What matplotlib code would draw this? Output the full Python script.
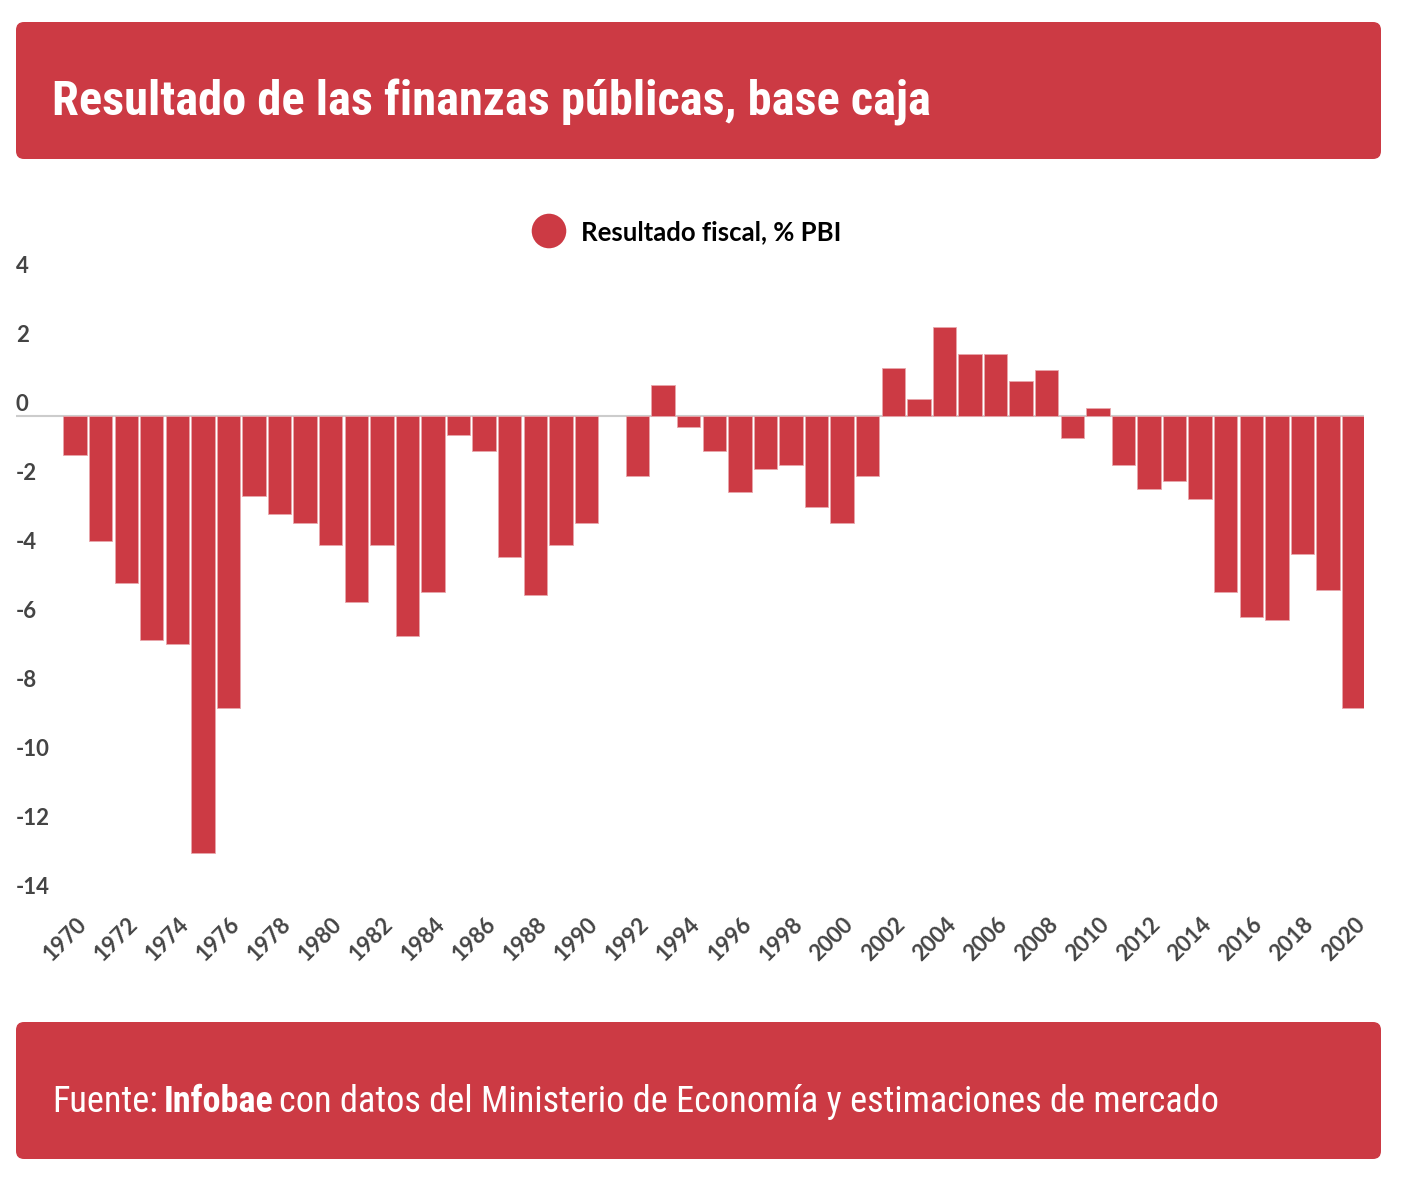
import numpy as np
import matplotlib
matplotlib.use("Agg")
import matplotlib.pyplot as plt
from matplotlib import font_manager
from matplotlib.font_manager import FontProperties
from matplotlib.patches import FancyBboxPatch
from matplotlib.transforms import ScaledTranslation

# data (% of GDP)
years = list(range(1970, 2021))
resultado = [
    -1.12, -3.63, -4.83, -6.50, -6.60, -12.66, -8.47, -2.33, -2.85, -3.11,
    -3.73, -5.40, -3.73, -6.38, -5.09, -0.55, -1.01, -4.09, -5.19, -3.73,
    -3.11, np.nan, -1.75, 0.91, -0.33, -1.01, -2.21, -1.54, -1.43, -2.63,
    -3.10, -1.74, 1.38, 0.49, 2.58, 1.80, 1.80, 1.01, 1.32, -0.65,
    0.23, -1.43, -2.12, -1.89, -2.41, -5.09, -5.82, -5.92, -3.99, -5.03, -8.47,
]
y_ticks = [4, 2, 0, -2, -4, -6, -8, -10, -12, -14]
x_tick_years = years[::2]

title = "Resultado de las finanzas públicas, base caja"
legend_label = "Resultado fiscal, % PBI"
fuente = ["Fuente:", "Infobae", "con datos del Ministerio de Economía y estimaciones de mercado"]

RED = "#cc3a44"
W, H = 1402, 1190
TICKFONT = ["Lato", "DejaVu Sans"]


def narrow_font(bold):
    """Look for an installed condensed / narrow face, else fall back to Roboto."""
    best = None
    for f in font_manager.fontManager.ttflist:
        name = f.name.lower()
        narrow = ("narrow" in name or "condensed" in name
                  or f.stretch in ("condensed", "semi-condensed", "extra-condensed"))
        if not narrow or f.style != "normal":
            continue
        w = f.weight if isinstance(f.weight, int) else (700 if f.weight == "bold" else 400)
        if (w >= 600) != bold:
            continue
        if best is None or "liberation" in name or "roboto" in name:
            best = f
    if best is not None:
        return FontProperties(fname=best.fname)
    return FontProperties(family=["Roboto", "DejaVu Sans"], weight="bold" if bold else "normal")


fp_bold = narrow_font(True)
fp_reg = narrow_font(False)

fig = plt.figure(figsize=(W / 100, H / 100), dpi=100)
renderer = fig.canvas.get_renderer()

# background layer in pixel coordinates
bg = fig.add_axes([0, 0, 1, 1], zorder=0)
bg.set_xlim(0, W)
bg.set_ylim(H, 0)
bg.axis("off")

for y0 in (22, 1022):
    bg.add_patch(FancyBboxPatch((16, y0), 1365, 137,
                                boxstyle="round,pad=0,rounding_size=8",
                                facecolor=RED, edgecolor="none"))


def fit(texts, target, size):
    # scale the font size so the run of texts covers the target width in pixels
    for t in texts:
        t.set_fontsize(size)
    fig.canvas.draw()
    x0 = texts[0].get_window_extent(renderer).x0
    x1 = texts[-1].get_window_extent(renderer).x1
    new = size * target / (x1 - x0)
    for t in texts:
        t.set_fontsize(new)


t_title = bg.text(52, 116, title, color="white", fontproperties=fp_bold,
                  va="baseline", ha="left")
fit([t_title], 878, 40)

t1 = bg.text(52, 1112, fuente[0], color="white", fontproperties=fp_reg,
             va="baseline", ha="left")
t2 = bg.annotate(fuente[1], xy=(1, 0), xycoords=t1, xytext=(4, 0),
                 textcoords="offset points", color="white",
                 fontproperties=fp_bold, va="bottom", ha="left")
t3 = bg.annotate(fuente[2], xy=(1, 0), xycoords=t2, xytext=(4, 0),
                 textcoords="offset points", color="white",
                 fontproperties=fp_reg, va="bottom", ha="left")
fit([t1, t2, t3], 1168, 24)

# legend
bg.scatter([549], [231], s=620, color=RED, edgecolors="none")
bg.text(581, 232, legend_label, fontsize=18.5, fontweight="bold",
        family=TICKFONT, color="black", va="center", ha="left")

# chart area: x 16..1364 px, y 278..899 px
ax = fig.add_axes([16 / W, 1 - 899 / H, (1364 - 16) / W, (899 - 278) / H], zorder=1)
ax.patch.set_alpha(0)
x = np.arange(len(years))
ax.bar(x, resultado, width=0.915, color=RED, edgecolor="#e8a6ab", linewidth=0.6, zorder=2)
ax.axhline(0, color="#cccccc", linewidth=1.5, zorder=1)
ax.set_xlim(-2.31, 50.41)
ax.set_ylim(-14, 4)
for s in ax.spines.values():
    s.set_visible(False)
ax.set_yticks([])

for v in y_ticks:
    ax.annotate(str(v), xy=(0, v), xycoords=ax.get_yaxis_transform(),
                xytext=(0, 1), textcoords="offset points",
                fontsize=16, fontweight="bold", family=TICKFONT, color="#444444",
                va="bottom", ha="left")

ax.set_xticks([years.index(y) for y in x_tick_years])
ax.set_xticklabels([str(y) for y in x_tick_years], rotation=45, ha="right",
                   va="center", rotation_mode="anchor", fontsize=16,
                   fontweight="bold", family=TICKFONT, color="#444444")
ax.tick_params(axis="x", length=0, pad=16)
shift = ScaledTranslation(8 / 100, 0, fig.dpi_scale_trans)
for lab in ax.get_xticklabels():
    lab.set_transform(lab.get_transform() + shift)

fig.savefig("out.png", dpi=100, facecolor="white")
